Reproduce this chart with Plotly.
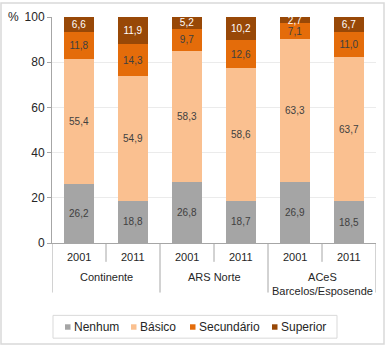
import plotly.graph_objects as go

groups = ["Continente", "ARS Norte", "ACeS<br>Barcelos/Esposende"]
years = ["2001", "2011"]
categories = ["C2001", "C2011", "A2001", "A2011", "B2001", "B2011"]
series_names = ["Nenhum", "Básico", "Secundário", "Superior"]
nenhum = [26.2, 18.8, 26.8, 18.7, 26.9, 18.5]
basico = [55.4, 54.9, 58.3, 58.6, 63.3, 63.7]
secundario = [11.8, 14.3, 9.7, 12.6, 7.1, 11.0]
superior = [6.6, 11.9, 5.2, 10.2, 2.7, 6.7]
y_ticks = [0, 20, 40, 60, 80, 100]

colors = ["#A5A5A5", "#FAC090", "#E46C0A", "#984807"]
text_colors = ["#404040", "#404040", "#404040", "#FFFFFF"]
FONT = "Liberation Sans, Arial, sans-serif"

# layout helpers (pixel -> paper), plot area: x 52..376, y 15..243
L, R, T, B = 52, 376, 15, 243
def px(x):
    return (x - L) / (R - L)
def py(y):
    return (B - y) / (B - T)

fig = go.Figure()
for name, vals, c, tc in zip(series_names, [nenhum, basico, secundario, superior], colors, text_colors):
    fig.add_trace(go.Bar(
        x=categories, y=vals, name=name, marker=dict(color=c, line=dict(width=0)),
        text=[f"{v:.1f}".replace(".", ",") for v in vals],
        textposition="inside", insidetextanchor="middle",
        textfont=dict(color=tc, size=10, family=FONT),
        hoverinfo="skip", showlegend=False,
    ))

shapes = []
axis_col = "#A6A6A6"
for i in range(len(categories) + 1):
    xpos = i - 0.5
    long = (i % 2 == 0)
    shapes.append(dict(type="line", xref="x", yref="paper", x0=xpos, x1=xpos,
                       y0=0, y1=py(293 if long else 262),
                       line=dict(color=axis_col, width=1)))
# outer border
shapes.append(dict(type="rect", xref="paper", yref="paper", x0=px(1), x1=px(384),
                   y0=py(345), y1=py(1), line=dict(color="#D9D9D9", width=1.5), layer="below"))

annotations = []
for i, c in enumerate(categories):
    annotations.append(dict(x=i, y=py(249), xref="x", yref="paper", text=years[i % 2],
                            showarrow=False, yanchor="top",
                            font=dict(size=11, color="#262626", family=FONT)))
for g, name in enumerate(groups):
    annotations.append(dict(x=2 * g + 0.5, y=py(269), xref="x", yref="paper", text=name,
                            showarrow=False, yanchor="top",
                            font=dict(size=11, color="#262626", family=FONT)))
annotations.append(dict(x=px(13), y=1.0, xref="paper", yref="paper", text="%",
                        showarrow=False, xanchor="center", yanchor="middle",
                        font=dict(size=12, color="#262626", family=FONT)))

# custom legend
shapes.append(dict(type="rect", xref="paper", yref="paper", x0=px(53), x1=px(337),
                   y0=py(339), y1=py(316), line=dict(color="#D9D9D9", width=1),
                   fillcolor="white"))
legend_sq_left = [65, 131, 190, 272]
for name, c, sx in zip(series_names, colors, legend_sq_left):
    shapes.append(dict(type="rect", xref="paper", yref="paper", x0=px(sx), x1=px(sx + 5.5),
                       y0=py(330.5), y1=py(325), line=dict(width=0), fillcolor=c))
    annotations.append(dict(x=px(sx + 6.5), y=py(327.5), xref="paper", yref="paper", text=name,
                            showarrow=False, xanchor="left", yanchor="middle",
                            font=dict(size=12, color="#262626", family=FONT)))

fig.update_layout(
    barmode="stack", bargap=0.444,
    width=386, height=348,
    margin=dict(l=L, r=386 - R, t=T, b=348 - B),
    paper_bgcolor="white", plot_bgcolor="white",
    font=dict(family=FONT, color="#262626"),
    uniformtext=dict(minsize=10, mode="show"),
    xaxis=dict(type="category", categoryorder="array", categoryarray=categories,
               range=[-0.5, 5.5], showticklabels=False, ticks="",
               showline=True, linecolor=axis_col, linewidth=1, showgrid=False, zeroline=False),
    yaxis=dict(range=[0, 100], tickvals=y_ticks, ticks="outside", ticklen=4,
               tickcolor=axis_col, showline=True, linecolor=axis_col, linewidth=1,
               gridcolor="#EBEBEB", gridwidth=1, zeroline=False,
               tickfont=dict(size=12, color="#262626", family=FONT)),
    shapes=shapes, annotations=annotations, showlegend=False,
)

fig.write_html("out.html")
